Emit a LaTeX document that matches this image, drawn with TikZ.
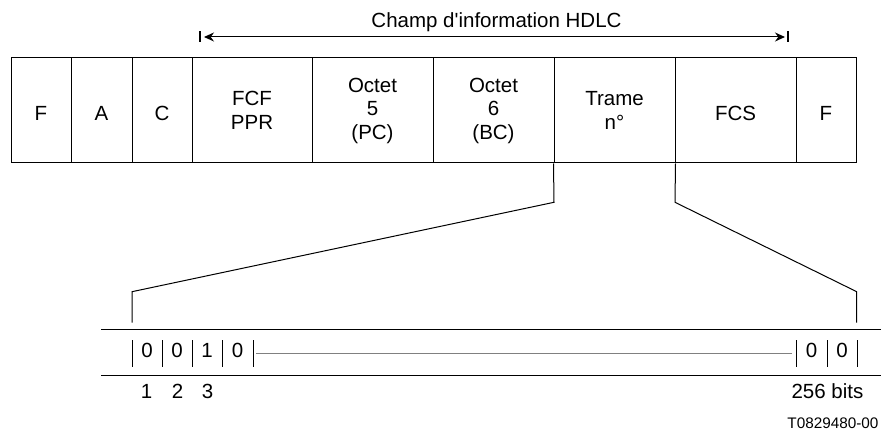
\documentclass[tikz,border=0pt]{standalone}
\usepackage{fontspec}
\setmainfont{Liberation Sans}[Ligatures=TeXOff]
\usetikzlibrary{arrows.meta}
\begin{document}
\begin{tikzpicture}[x=1pt,y=-1pt,line width=1pt,
  every node/.style={font=\fontsize{20.5}{23.5}\selectfont, inner sep=0pt},
  cell/.style={draw, minimum height=105pt, align=center},
  single/.style={text height=20pt, text depth=0pt},
  lbl/.style={anchor=base},
  tick/.style={line width=2.4pt},
  grayline/.style={draw=black!50, line width=0.9pt},
  tip/.style={Stealth[length=10pt,width=9pt]}]
\useasboundingbox (0,0) rectangle (881,430);
% frame cells
\node[cell,single,minimum width=60pt] (cF1) at (41,110.5) {F};
\node[cell,single,minimum width=61pt] (cA) at (101.5,110.5) {A};
\node[cell,single,minimum width=60pt] (cC) at (162,110.5) {C};
\node[cell,minimum width=120pt] (cFCF) at (252,110.5) {FCF\\PPR};
\node[cell,minimum width=121pt] (cO5) at (372.5,110.5) {Octet\\5\\(PC)};
\node[cell,minimum width=121pt] (cO6) at (493.5,110.5) {Octet\\6\\(BC)};
\node[cell,minimum width=121pt] (cTr) at (614.5,110.5) {Trame\\n°};
\node[cell,single,minimum width=121pt] (cFCS) at (735.5,110.5) {FCS};
\node[cell,single,minimum width=60pt] (cF2) at (826,110.5) {F};
% title and dimension arrow
\node[lbl] (title) at (496.5,28) {Champ d'information HDLC};
\coordinate (aL) at (200,37);
\coordinate (aR) at (788,37);
\draw[tick] (aL) ++(0,-5.5) -- ++(0,11);
\draw[tick] (aR) ++(0,-5.5) -- ++(0,11);
\draw[{Stealth[length=10pt,width=9pt]}-{Stealth[length=10pt,width=9pt]}] ([xshift=4pt]aL) -- ([xshift=-3pt]aR);
% expansion lines
\coordinate (kL1) at (554,202.3);
\coordinate (kL2) at (132,291.7);
\coordinate (eL) at (132,322.7);
\coordinate (kR1) at (675,202.3);
\coordinate (kR2) at (856.7,291.7);
\coordinate (eR) at (856.7,322.7);
\draw (cTr.south west) -- (kL1) -- (kL2) -- (eL);
\draw (cTr.south east) -- (kR1) -- (kR2) -- (eR);
% bit row
\coordinate (rT1) at (101,329.5); \coordinate (rT2) at (881,329.5);
\coordinate (rB1) at (101,375);   \coordinate (rB2) at (881,375);
\draw (rT1) -- (rT2);
\draw (rB1) -- (rB2);
\foreach \x in {132,162,192,222,253,796,827,857}
  \draw (\x,340.5) -- (\x,366.5);
\coordinate (mL) at (256,353.3);
\coordinate (mR) at (792,353.3);
\draw[grayline] (mL) -- (mR);
\node[lbl] (b1) at (147,358) {0};
\node[lbl] (b2) at (177,358) {0};
\node[lbl] (b3) at (207,358) {1};
\node[lbl] (b4) at (237.5,358) {0};
\node[lbl] (b5) at (811.5,358) {0};
\node[lbl] (b6) at (842,358) {0};
\node[lbl] (n1) at (146.5,398) {1};
\node[lbl] (n2) at (177.5,398) {2};
\node[lbl] (n3) at (207.5,398) {3};
\node[lbl] (n256) at (827.4,398) {256 bits};
\node[anchor=base east, font=\fontsize{15.3}{18}\selectfont] (code) at (879,428) {T0829480-00};
\end{tikzpicture}
\end{document}
